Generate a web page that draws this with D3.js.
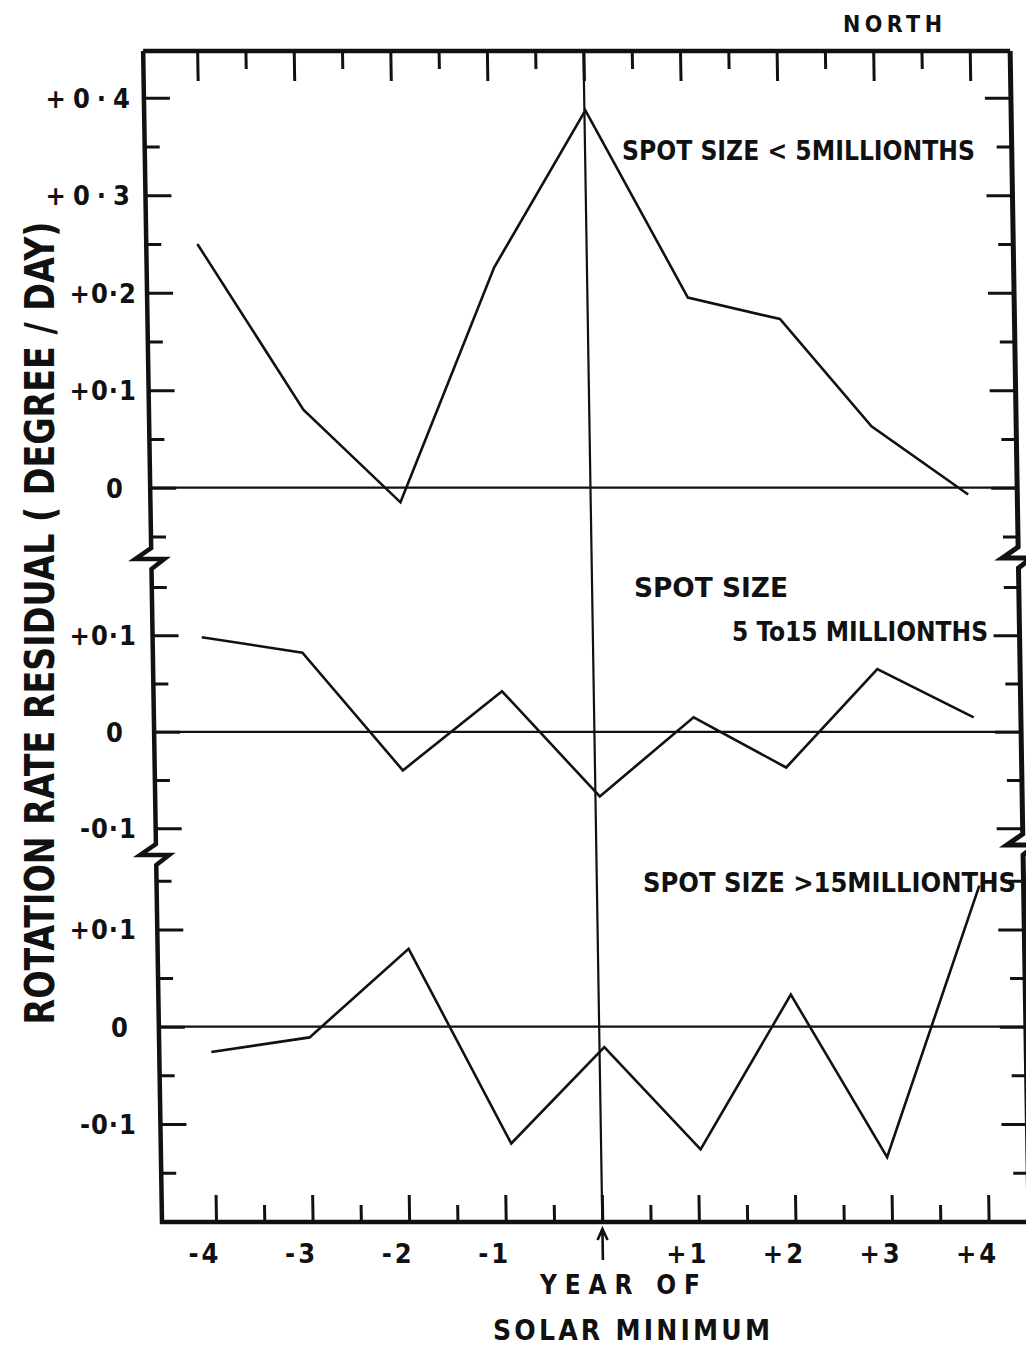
<!DOCTYPE html>
<html>
<head>
<meta charset="utf-8">
<script src="https://cdn.jsdelivr.net/npm/d3@7"></script>
<style>
  html, body { margin: 0; padding: 0; background: #fff; }
  svg { display: block; }
  text { font-family: 'DejaVu Sans Condensed', 'DejaVu Sans', sans-serif; font-weight: bold; fill: #111; }
</style>
</head>
<body>
<svg id="chart" width="1026" height="1346"></svg>
<script>
// ---- Data: rotation-rate residual (degree/day) vs. year relative to solar minimum ----
const yearTicks = [-4, -3, -2, -1, 0, 1, 2, 3, 4];
const yearTickLabels = ["-4", "-3", "-2", "-1", "", "+1", "+2", "+3", "+4"];
const halfYearTicks = [-3.5, -2.5, -1.5, -0.5, 0.5, 1.5, 2.5, 3.5];

// spot size < 5 millionths
const smallYear     = [-4.03, -2.96, -1.97, -0.96, 0.01, 1.04, 1.99, 2.92, 3.91];
const smallResidual = [0.250, 0.080, -0.015, 0.226, 0.387, 0.195, 0.173, 0.063, -0.007];

// spot size 5 to 15 millionths
const mediumYear     = [-4.05, -3.01, -1.99, -0.95, 0.045, 1.03, 1.98, 2.94, 3.93];
const mediumResidual = [0.098, 0.082, -0.040, 0.042, -0.067, 0.015, -0.037, 0.065, 0.015];

// spot size > 15 millionths
const largeYear     = [-4.02, -3.00, -1.96, -0.93, 0.05, 1.03, 1.99, 2.96, 3.96];
const largeResidual = [-0.026, -0.011, 0.080, -0.120, -0.021, -0.126, 0.033, -0.134, 0.145];

// y-axis ticks for each panel
const topMajor = [0, 0.1, 0.2, 0.3, 0.4];
const topMajorLabels = ["0", "+0·1", "+0·2", "+0·3", "+0·4"];
const topMinor = [-0.05, 0.05, 0.15, 0.25, 0.35];
const midMajor = [-0.1, 0, 0.1];
const midMajorLabels = ["-0·1", "0", "+0·1"];
const midMinor = [-0.05, 0.05, 0.15];
const lowMajor = [-0.1, 0, 0.1];
const lowMajorLabels = ["-0·1", "0", "+0·1"];
const lowMinor = [-0.15, -0.05, 0.05, 0.15];

// ---- Layout ----
const svg = d3.select("#chart");
const frame = { left: 162, right: 1029, top: 51, bottom: 1222 };
const breaks = { left: [559, 855], right: [558, 845] };
const shear = 0.0161; // the hand-drawn frame leans slightly

const x = d3.scaleLinear().domain([-4, 4]).range([216, 988.6]);
const yTop = d3.scaleLinear().domain([0, 0.4]).range([487.7, 97.7]);
const yMid = d3.scaleLinear().domain([0, 0.1]).range([731.8, 635.3]);
const yLow = d3.scaleLinear().domain([0, 0.1]).range([1026.7, 929.4]);

const plot = svg.append("g")
  .attr("transform", `translate(${-shear * frame.bottom},0) skewX(${Math.atan(shear) * 180 / Math.PI})`);

// frame with axis-break zigzags on both sides
function zig(p, ax, c) {
  p.lineTo(ax, c - 11);
  p.lineTo(ax - 16, c);
  p.lineTo(ax + 13, c);
  p.lineTo(ax, c + 10);
}
const fp = d3.path();
fp.moveTo(frame.left, frame.top);
zig(fp, frame.left, breaks.left[0]);
zig(fp, frame.left, breaks.left[1]);
fp.lineTo(frame.left, frame.bottom);
fp.lineTo(frame.right, frame.bottom);
const rp = d3.path();
rp.moveTo(frame.right, frame.top);
zig(rp, frame.right, breaks.right[0]);
zig(rp, frame.right, breaks.right[1]);
rp.lineTo(frame.right, frame.bottom);

plot.append("path").attr("d", fp.toString())
  .attr("fill", "none").attr("stroke", "#111").attr("stroke-width", 4.5).attr("stroke-linejoin", "miter");
plot.append("path").attr("d", rp.toString())
  .attr("fill", "none").attr("stroke", "#111").attr("stroke-width", 5).attr("stroke-linejoin", "miter");
plot.append("line")
  .attr("x1", frame.left).attr("x2", frame.right)
  .attr("y1", frame.top).attr("y2", frame.top)
  .attr("stroke", "#111").attr("stroke-width", 4.5);

function styleAxis(g, w) {
  g.select(".domain").remove();
  g.selectAll("line").attr("stroke", "#111").attr("stroke-width", w);
  g.selectAll("text").remove();
}

// x ticks along top (pointing down) and bottom (pointing up)
plot.append("g").attr("transform", `translate(0,${frame.top})`)
  .call(d3.axisBottom(x).tickValues(yearTicks).tickSize(30).tickFormat(""))
  .call(g => styleAxis(g, 3));
plot.append("g").attr("transform", `translate(0,${frame.top})`)
  .call(d3.axisBottom(x).tickValues(halfYearTicks).tickSize(18).tickFormat(""))
  .call(g => styleAxis(g, 3));
plot.append("g").attr("transform", `translate(0,${frame.bottom})`)
  .call(d3.axisTop(x).tickValues(yearTicks).tickSize(27).tickFormat(""))
  .call(g => styleAxis(g, 3));
plot.append("g").attr("transform", `translate(0,${frame.bottom})`)
  .call(d3.axisTop(x).tickValues(halfYearTicks).tickSize(17).tickFormat(""))
  .call(g => styleAxis(g, 3));

// y ticks, inward from both side axes
const panels = [
  { y: yTop, major: topMajor, labels: topMajorLabels, minor: topMinor, year: smallYear, value: smallResidual },
  { y: yMid, major: midMajor, labels: midMajorLabels, minor: midMinor, year: mediumYear, value: mediumResidual },
  { y: yLow, major: lowMajor, labels: lowMajorLabels, minor: lowMinor, year: largeYear, value: largeResidual }
];

panels.forEach(pn => {
  plot.append("g").attr("transform", `translate(${frame.left},0)`)
    .call(d3.axisRight(pn.y).tickValues(pn.major).tickSize(26).tickFormat(""))
    .call(g => styleAxis(g, 3));
  plot.append("g").attr("transform", `translate(${frame.left},0)`)
    .call(d3.axisRight(pn.y).tickValues(pn.minor).tickSize(15).tickFormat(""))
    .call(g => styleAxis(g, 3));
  plot.append("g").attr("transform", `translate(${frame.right},0)`)
    .call(d3.axisLeft(pn.y).tickValues(pn.major).tickSize(26).tickFormat(""))
    .call(g => styleAxis(g, 3));
  plot.append("g").attr("transform", `translate(${frame.right},0)`)
    .call(d3.axisLeft(pn.y).tickValues(pn.minor).tickSize(15).tickFormat(""))
    .call(g => styleAxis(g, 3));

  // zero reference line
  plot.append("line")
    .attr("x1", frame.left).attr("x2", frame.right)
    .attr("y1", pn.y(0)).attr("y2", pn.y(0))
    .attr("stroke", "#111").attr("stroke-width", 2.2);

  // residual series
  const pts = pn.year.map((yr, i) => ({ yr, v: pn.value[i] }));
  plot.append("path")
    .datum(pts)
    .attr("fill", "none")
    .attr("stroke", "#111")
    .attr("stroke-width", 2.6)
    .attr("stroke-linejoin", "miter")
    .attr("d", d3.line().x(d => x(d.yr)).y(d => pn.y(d.v)));
});

// solar minimum marker line
plot.append("line")
  .attr("x1", x(0)).attr("x2", x(0))
  .attr("y1", frame.top).attr("y2", frame.bottom)
  .attr("stroke", "#111").attr("stroke-width", 2.2);

// arrow under the axis at the solar minimum
const ax0 = x(0);
plot.append("path")
  .attr("d", `M${ax0},1260 L${ax0},1229 M${ax0 - 5},1240 L${ax0},1229 L${ax0 + 5},1240`)
  .attr("fill", "none").attr("stroke", "#111").attr("stroke-width", 2.6);

// ---- Text ----
// year labels
svg.append("g").selectAll("text")
  .data(yearTicks.map((t, i) => ({ t, s: yearTickLabels[i] })).filter(d => d.s))
  .join("text")
  .attr("x", d => x(d.t) - 11)
  .attr("y", 1263)
  .attr("text-anchor", "middle")
  .attr("font-size", 27)
  .attr("letter-spacing", 3)
  .text(d => d.s);

// residual labels
panels.forEach((pn, pi) => {
  svg.append("g").selectAll("text")
    .data(pn.major.map((v, i) => ({ v, s: pn.labels[i], i })))
    .join("text")
    .attr("x", d => d.s === "0" ? (pi === 2 ? 120 : 115) : 137)
    .attr("y", d => pn.y(d.v) + 10)
    .attr("text-anchor", d => d.s === "0" ? "middle" : "end")
    .attr("font-size", 27)
    .attr("letter-spacing", d => (pi === 0 && d.v >= 0.3) ? 7 : 1)
    .text(d => d.s);
});

// axis titles
svg.append("text")
  .attr("transform", "translate(54,623) rotate(-90)")
  .attr("text-anchor", "middle")
  .attr("font-size", 40)
  .attr("textLength", 803)
  .attr("lengthAdjust", "spacingAndGlyphs")
  .text("ROTATION  RATE  RESIDUAL ( DEGREE / DAY)");

const labels = [
  { s: "NORTH", x: 843, y: 32, w: 99, fs: 23, adj: "spacing" },
  { s: "SPOT SIZE  < 5MILLIONTHS", x: 622, y: 160, w: 353, fs: 27, adj: "spacingAndGlyphs" },
  { s: "SPOT  SIZE", x: 634, y: 597, w: 154, fs: 27, adj: "spacingAndGlyphs" },
  { s: "5 To15 MILLIONTHS", x: 732, y: 641, w: 256, fs: 27, adj: "spacingAndGlyphs" },
  { s: "SPOT SIZE >15MILLIONTHS", x: 643, y: 892, w: 373, fs: 27, adj: "spacingAndGlyphs" },
  { s: "YEAR OF", x: 540, y: 1294, w: 160, fs: 26, adj: "spacing" },
  { s: "SOLAR MINIMUM", x: 493, y: 1340, w: 277, fs: 28, adj: "spacing" }
];
svg.append("g").selectAll("text")
  .data(labels)
  .join("text")
  .attr("x", d => d.x)
  .attr("y", d => d.y)
  .attr("font-size", d => d.fs)
  .attr("textLength", d => d.w)
  .attr("lengthAdjust", d => d.adj)
  .text(d => d.s);
</script>
</body>
</html>
